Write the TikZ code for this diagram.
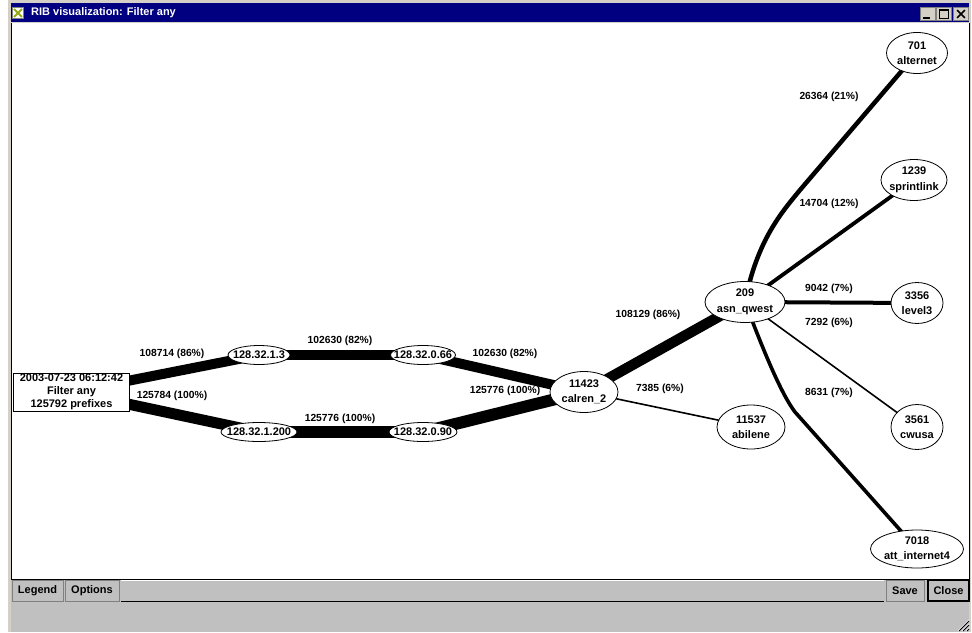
\documentclass[tikz,border=0pt]{standalone}
\usepackage{fontspec}
\setmainfont{Liberation Sans}
\usetikzlibrary{shapes.geometric}
\definecolor{navy}{RGB}{0,0,128}
\definecolor{winframe}{RGB}{212,208,200}
\definecolor{panel}{RGB}{192,192,192}
\definecolor{shade}{RGB}{128,128,128}
\definecolor{iconx}{RGB}{150,170,20}
\newcommand{\zw}[1]{\makebox[0pt]{#1}}
\pgfdeclarelayer{bg}
\pgfdeclarelayer{edges}
\pgfsetlayers{bg,edges,main}
\begin{document}
\begin{tikzpicture}[x=1pt,y=-1pt,
  lbl/.style={font=\fontsize{10.3}{11}\selectfont\bfseries, inner sep=0},
  el/.style={ellipse, draw, fill=white, line width=0.8pt, inner sep=0, align=center,
     font=\fontsize{11}{15.5}\selectfont\bfseries},
  ipnode/.style={el, minimum height=19pt},
  asnode/.style={el, minimum height=41pt},
  btn/.style={rectangle, fill=panel, draw=shade, line width=0.8pt, inner sep=0,
     minimum height=21pt, font=\fontsize{11}{12}\selectfont\bfseries},
  tbtn/.style={rectangle, fill=winframe, draw=shade, line width=0.8pt, inner sep=0,
     minimum width=15pt, minimum height=13pt},
  flow/.style={line width=#1}
]
\useasboundingbox (0,0) rectangle (972,632);

% ---------------- window chrome ----------------
\begin{pgfonlayer}{bg}
\fill[white] (0,0) rectangle (972,632);
\fill[winframe] (8,0) rectangle (971,632);
\fill[navy] (11,3) rectangle (969,22);
\fill[white] (11,23) rectangle (969,579);
\draw[shade, line width=1pt] (11,23) -- (11,579);
\draw[shade, line width=1pt] (969,23) -- (969,579);
\fill[panel] (11,579) rectangle (969,632);
\draw[shade, line width=0.8pt] (11,579.5) -- (969,579.5);
\draw[shade, line width=0.8pt] (121,601.5) -- (884,601.5);
\draw[white, line width=0.8pt] (121,580.5) -- (884,580.5);
% resize grip
\foreach \d in {3,7,11}{
  \draw[white, line width=0.8pt] (969-\d,631) -- (969,631-\d);
  \draw[shade, line width=0.8pt] (970-\d,631) -- (969,632-\d);
}
\end{pgfonlayer}

% title bar icon and text
\node[rectangle, fill=white, draw=shade, line width=0.8pt, minimum width=11pt, minimum height=11pt, inner sep=0] (icon) at (18,13) {};
\draw[iconx, line width=1.8pt] ([xshift=2pt,yshift=-2pt]icon.north west) -- ([xshift=-2pt,yshift=2pt]icon.south east);
\draw[iconx, line width=1.8pt] ([xshift=-2pt,yshift=-2pt]icon.north east) -- ([xshift=2pt,yshift=2pt]icon.south west);
\node[anchor=west, text=white, font=\fontsize{11}{12}\selectfont\bfseries, inner sep=0] (title) at (31,13) {RIB visualization: Filter any};

\node[tbtn] (minb) at (928,14) {};
\node[tbtn] (maxb) at (944,14) {};
\node[tbtn] (closeb) at (961,14) {};
\draw[black, line width=2pt] ([xshift=3pt,yshift=3pt]minb.south west) -- ([xshift=-6pt,yshift=3pt]minb.south east);
\draw[black, line width=1.2pt] ([xshift=3.5pt,yshift=2.5pt]maxb.south west) rectangle ([xshift=-3.5pt,yshift=-2.5pt]maxb.north east);
\draw[black, line width=2pt] ([xshift=3.5pt,yshift=-2.5pt]maxb.north west) -- ([xshift=-3.5pt,yshift=-2.5pt]maxb.north east);
\draw[black, line width=1.6pt] ([xshift=4pt,yshift=3pt]closeb.south west) -- ([xshift=-4pt,yshift=-3pt]closeb.north east);
\draw[black, line width=1.6pt] ([xshift=4pt,yshift=-3pt]closeb.north west) -- ([xshift=-4pt,yshift=3pt]closeb.south east);

% bottom buttons
\node[btn, minimum width=51pt] (legend) at (37.5,590.5) {Legend};
\node[btn, minimum width=54pt] (options) at (92,590.5) {Options};
\node[btn, minimum width=38pt] (save) at (905,590.5) {Save};
\node[btn, draw=black, line width=1.5pt, minimum width=41pt] (close) at (948.5,590.5) {Close};

% ---------------- graph nodes ----------------
\node[rectangle, draw, fill=white, line width=1pt, align=center, inner sep=0,
      minimum width=116pt, minimum height=38pt,
      font=\fontsize{11}{13}\selectfont\bfseries] (root) at (71.5,392)
      {2003-07-23 06:12:42\\Filter any\\125792 prefixes};

\node[ipnode, minimum width=62pt] (n13) at (259,355) {\zw{128.32.1.3}};
\node[ipnode, minimum width=65pt] (n066) at (423,355) {\zw{128.32.0.66}};
\node[ipnode, minimum width=76pt] (n1200) at (259,432) {\zw{128.32.1.200}};
\node[ipnode, minimum width=68pt] (n090) at (423,432) {\zw{128.32.0.90}};

\node[asnode, minimum width=68pt] (calren) at (584,392) {\zw{11423}\\\zw{calren\_2}};
\node[asnode, minimum width=68pt, minimum height=44pt] (abilene) at (751,427) {\zw{11537}\\\zw{abilene}};
\node[asnode, minimum width=80pt] (qwest) at (745,302) {\zw{209}\\\zw{asn\_qwest}};
\node[asnode, minimum width=61pt] (alternet) at (917,53) {\zw{701}\\\zw{alternet}};
\node[asnode, minimum width=66pt] (sprint) at (914,180) {\zw{1239}\\\zw{sprintlink}};
\node[asnode, minimum width=52pt] (level3) at (917,303) {\zw{3356}\\\zw{level3}};
\node[asnode, minimum width=52pt, minimum height=45pt] (cwusa) at (917,427) {\zw{3561}\\\zw{cwusa}};
\node[asnode, minimum width=93pt, minimum height=38pt] (att) at (917,549) {\zw{7018}\\\zw{att\_internet4}};

\coordinate (altbend) at (800,190);
\coordinate (attbend) at (795,412);

% ---------------- connectors ----------------
\begin{pgfonlayer}{edges}
\draw[flow=10pt] (root.center) -- (n13.center);
\draw[flow=11pt] (root.center) -- (n1200.center);
\draw[flow=10pt] (n13.center) -- (n066.center);
\draw[flow=12pt] (n1200.center) -- (n090.center);
\draw[flow=10pt] (n066.center) -- (calren.center);
\draw[flow=12pt] (n090.center) -- (calren.center);
\draw[flow=10.5pt] (calren.center) -- (qwest.center);
\draw[flow=1.6pt] (calren.center) -- (abilene.center);
\draw[flow=4.5pt] (qwest.center) .. controls (757,240) and (782,212) .. (altbend) -- (alternet.center);
\draw[flow=3.8pt] (qwest.center) -- (sprint.center);
\draw[flow=4pt] (qwest.center) -- (level3.center);
\draw[flow=1.6pt] (qwest.center) -- (cwusa.center);
\draw[flow=3.6pt] (qwest.center) .. controls (765,355) and (782,395) .. (attbend) -- (att.center);
\end{pgfonlayer}

% ---------------- edge labels ----------------
\node[lbl] (l1) at (172,354) {108714 (86\%)};
\node[lbl] (l2) at (172,396) {125784 (100\%)};
\node[lbl] (l3) at (340,341) {102630 (82\%)};
\node[lbl] (l4) at (340,419) {125776 (100\%)};
\node[lbl] (l5) at (505,354) {102630 (82\%)};
\node[lbl] (l6) at (505,391) {125776 (100\%)};
\node[lbl] (l7) at (648,315) {108129 (86\%)};
\node[lbl] (l8) at (660,389) {7385 (6\%)};
\node[lbl] (l9) at (829,97) {26364 (21\%)};
\node[lbl] (l10) at (829,204) {14704 (12\%)};
\node[lbl] (l11) at (829,289) {9042 (7\%)};
\node[lbl] (l12) at (829,323) {7292 (6\%)};
\node[lbl] (l13) at (829,393) {8631 (7\%)};
\end{tikzpicture}
\end{document}
